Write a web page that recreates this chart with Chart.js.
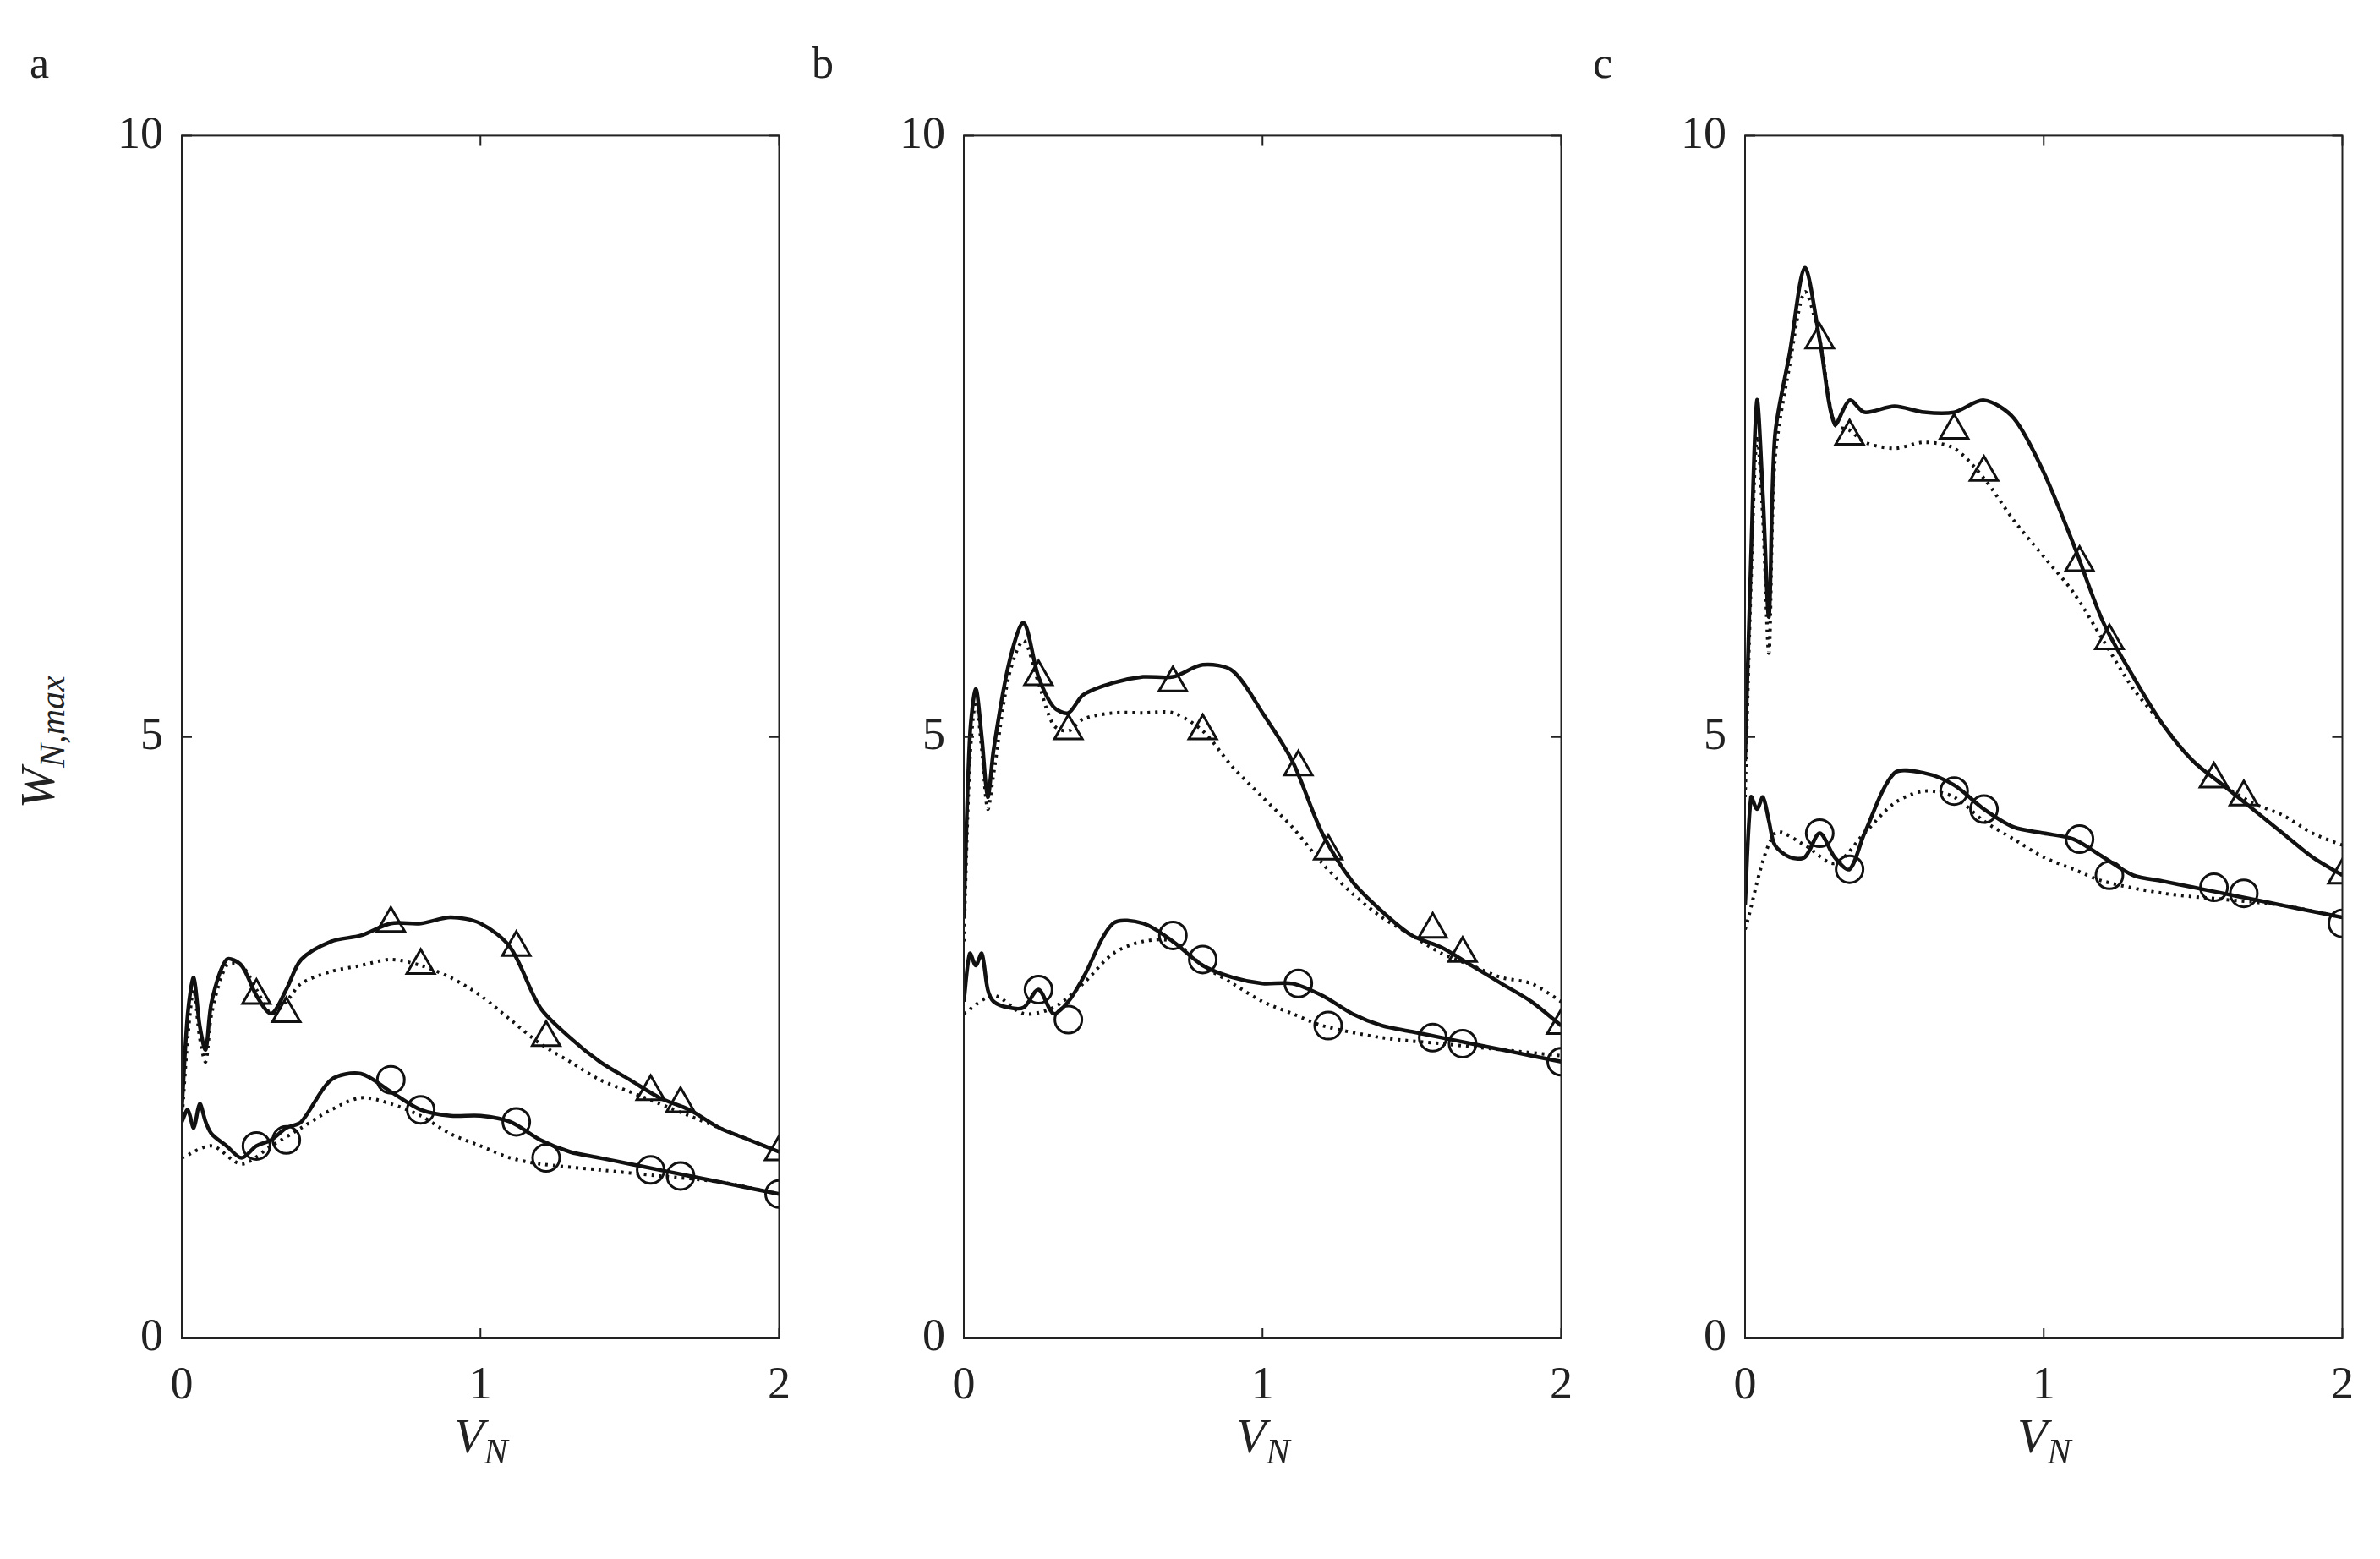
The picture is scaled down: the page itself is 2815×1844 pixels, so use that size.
<!DOCTYPE html>
<html><head><meta charset="utf-8">
<script src="https://cdn.jsdelivr.net/npm/chart.js@4.4.1/dist/chart.umd.min.js"></script>
<style>
body{margin:0;background:#fff;width:2815px;height:1844px;position:relative;overflow:hidden;font-family:"Liberation Serif",serif}
.box{position:absolute}
.lbl{position:absolute;font-size:52px;color:#222}
.xt{position:absolute;font-size:58px;font-style:italic;color:#222}
.xt sub{font-size:42px}
</style></head><body>
<script>
// Datos
const xs = [0,0.02,0.04,0.06,0.08,0.1,0.15,0.2,0.25,0.3,0.35,0.4,0.5,0.6,0.7,0.8,0.9,1.0,1.1,1.2,1.3,1.4,1.5,1.6,1.7,1.8,1.9,2.0];
const xsCoarse = [0,0.1,0.2,0.3,0.4,0.5,0.6,0.7,0.8,0.9,1.0,1.1,1.2,1.4,1.6,1.8,2.0];
const xsMark = [0.25,0.35,0.7,0.8,1.12,1.22,1.57,1.67,2.0];

const aUpSolid = [1.9,2.7,3.0,2.6,2.4,2.8,3.15,3.1,2.85,2.7,2.9,3.15,3.3,3.35,3.45,3.45,3.5,3.45,3.25,2.75,2.5,2.3,2.15,2.0,1.9,1.75,1.65,1.55];
const aUpDot   = [1.8,2.5,2.9,2.5,2.3,2.7,3.1,3.1,2.9,2.7,2.8,2.95,3.05,3.1,3.15,3.1,3.0,2.85,2.65,2.45,2.3,2.15,2.05,1.95,1.85,1.75,1.65,1.55];
const aLoSolid = [1.8,1.9,1.75,1.95,1.8,1.7,1.6,1.5,1.6,1.65,1.75,1.8,2.15,2.2,2.05,1.9,1.85,1.85,1.8,1.65,1.55,1.5,1.45,1.4,1.35,1.3,1.25,1.2];
const aLoDot   = [1.5,1.6,1.45,1.6,1.75,1.9,2.0,1.95,1.85,1.7,1.6,1.5,1.45,1.4,1.35,1.3,1.2];
const aTri = [2.85,2.7,3.45,3.1,3.25,2.5,2.05,1.95,1.55];
const aCir = [1.6,1.65,2.15,1.9,1.8,1.5,1.4,1.35,1.2];

const bUpSolid = [3.5,5.0,5.4,5.0,4.5,4.9,5.6,5.95,5.5,5.25,5.2,5.35,5.45,5.5,5.5,5.6,5.55,5.2,4.8,4.2,3.8,3.55,3.35,3.25,3.1,2.95,2.8,2.6];
const bUpDot   = [3.3,4.8,5.3,4.9,4.4,4.7,5.5,5.8,5.45,5.1,5.05,5.15,5.2,5.2,5.2,5.05,4.75,4.5,4.25,3.95,3.7,3.5,3.35,3.2,3.1,3.0,2.95,2.8];
const bLoSolid = [2.8,3.2,3.1,3.2,2.9,2.8,2.75,2.75,2.9,2.7,2.8,3.0,3.45,3.45,3.3,3.1,3.0,2.95,2.95,2.85,2.7,2.6,2.55,2.5,2.45,2.4,2.35,2.3];
const bLoDot   = [2.7,2.85,2.7,2.75,2.95,3.2,3.3,3.3,3.1,2.95,2.8,2.7,2.6,2.5,2.45,2.4,2.35];
const bTri = [5.5,5.05,5.45,5.05,4.75,4.05,3.4,3.2,2.6];
const bCir = [2.9,2.65,3.35,3.15,2.95,2.6,2.5,2.45,2.3];

const cUpSolid = [4.8,6.5,7.8,7.0,6.0,7.5,8.2,8.9,8.3,7.6,7.8,7.7,7.75,7.7,7.7,7.8,7.65,7.2,6.6,5.95,5.5,5.1,4.8,4.6,4.4,4.2,4.0,3.85];
const cUpDot   = [4.5,6.3,7.5,6.8,5.7,7.3,8.1,8.7,8.3,7.6,7.55,7.45,7.4,7.45,7.4,7.15,6.8,6.5,6.2,5.8,5.4,5.1,4.8,4.6,4.45,4.35,4.2,4.1];
const cLoSolid = [3.6,4.5,4.4,4.5,4.3,4.1,4.0,4.0,4.2,4.0,3.9,4.2,4.7,4.7,4.6,4.4,4.25,4.2,4.15,4.0,3.85,3.8,3.75,3.7,3.65,3.6,3.55,3.5];
const cLoDot   = [3.4,4.2,4.1,3.95,4.2,4.45,4.55,4.5,4.3,4.15,4.0,3.9,3.8,3.7,3.65,3.6,3.5];
const cTri = [8.3,7.5,7.55,7.2,6.45,5.8,4.65,4.5,3.85];
const cCir = [4.2,3.9,4.55,4.4,4.15,3.85,3.75,3.7,3.45];

const xTicks = [0,1,2];
const yTicks = [0,5,10];

const paneles = [
  {letra:'a', left:215, series:[aUpSolid,aUpDot,aLoSolid,aLoDot], tri:aTri, cir:aCir},
  {letra:'b', left:1140, series:[bUpSolid,bUpDot,bLoSolid,bLoDot], tri:bTri, cir:bCir},
  {letra:'c', left:2064, series:[cUpSolid,cUpDot,cLoSolid,cLoDot], tri:cTri, cir:cCir}
];
const TOP = 156, W = 704, H = 1427, PADL = 120, PADB = 90;

const pares = (x, y) => y.map((v, i) => ({x: x[i], y: v}));

// Marco y marcas hacia adentro, estilo MATLAB
const marcoPlugin = {
  id: 'marco',
  afterDraw(chart) {
    const {ctx, chartArea: a, scales} = chart;
    ctx.save();
    ctx.strokeStyle = '#222'; ctx.lineWidth = 2;
    ctx.strokeRect(a.left, a.top, a.right - a.left, a.bottom - a.top);
    xTicks.forEach(t => {
      const p = scales.x.getPixelForValue(t);
      ctx.beginPath(); ctx.moveTo(p, a.bottom); ctx.lineTo(p, a.bottom - 12);
      ctx.moveTo(p, a.top); ctx.lineTo(p, a.top + 12); ctx.stroke();
    });
    yTicks.forEach(t => {
      const p = scales.y.getPixelForValue(t);
      ctx.beginPath(); ctx.moveTo(a.left, p); ctx.lineTo(a.left + 12, p);
      ctx.moveTo(a.right, p); ctx.lineTo(a.right - 12, p); ctx.stroke();
    });
    ctx.restore();
  }
};

paneles.forEach(pn => {
  const div = document.createElement('div');
  div.className = 'box';
  div.style.left = (pn.left - PADL) + 'px';
  div.style.top = (TOP - 42) + 'px';
  div.style.width = (W + PADL + 32) + 'px';
  div.style.height = (H + PADB + 42) + 'px';
  const cv = document.createElement('canvas');
  div.appendChild(cv);
  document.body.appendChild(div);

  const linea = (data, x, dash) => ({
    type: 'line', data: pares(x, data), borderColor: '#111', borderWidth: dash ? 4 : 4.5,
    borderDash: dash ? [3, 6] : [], pointRadius: 0, tension: 0.3, fill: false
  });
  const marca = (data, estilo) => ({
    type: 'scatter', data: pares(xsMark, data), pointStyle: estilo, pointRadius: estilo === 'triangle' ? 19 : 16,
    pointBorderColor: '#111', pointBackgroundColor: 'rgba(0,0,0,0)', pointBorderWidth: 3
  });

  new Chart(cv, {
    data: {
      datasets: [
        linea(pn.series[0], xs, false), linea(pn.series[1], xs, true),
        linea(pn.series[2], xs, false), linea(pn.series[3], xsCoarse, true),
        marca(pn.tri, 'triangle'), marca(pn.cir, 'circle')
      ]
    },
    options: {
      responsive: true, maintainAspectRatio: false, animation: false,
      layout: {padding: 0},
      plugins: {legend: {display: false}, tooltip: {enabled: false}},
      scales: {
        x: {type: 'linear', min: 0, max: 2,
            afterFit: s => { s.height = PADB; },
            afterBuildTicks: s => { s.ticks = xTicks.map(v => ({value: v})); },
            grid: {display: false}, border: {display: false},
            ticks: {color: '#222', padding: 16, font: {family: 'Liberation Serif', size: 54}}},
        y: {min: 0, max: 10,
            afterFit: s => { s.width = PADL; },
            afterBuildTicks: s => { s.ticks = yTicks.map(v => ({value: v})); },
            grid: {display: false}, border: {display: false},
            ticks: {color: '#222', padding: 14, font: {family: 'Liberation Serif', size: 54}}}
      }
    },
    plugins: [marcoPlugin]
  });

  const l = document.createElement('div');
  l.className = 'lbl'; l.textContent = pn.letra;
  l.style.left = (pn.left - 180) + 'px'; l.style.top = '45px';
  document.body.appendChild(l);

  const xt = document.createElement('div');
  xt.className = 'xt'; xt.innerHTML = 'V<sub>N</sub>';
  xt.style.left = (pn.left + W / 2 - 30) + 'px'; xt.style.top = '1665px';
  document.body.appendChild(xt);
});

const yt = document.createElement('div');
yt.className = 'xt';
yt.innerHTML = 'W<sub>N,max</sub>';
yt.style.left = '-30px'; yt.style.top = '840px';
yt.style.transform = 'rotate(-90deg)';
document.body.appendChild(yt);
</script>
</body></html>
